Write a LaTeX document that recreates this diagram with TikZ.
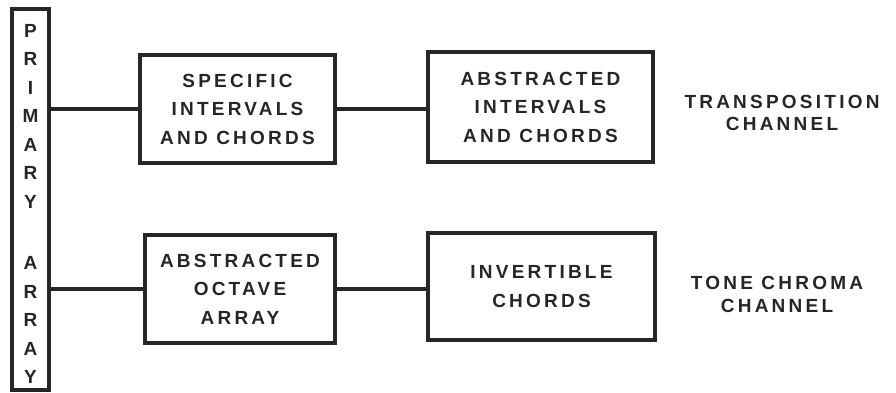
\documentclass[tikz,border=0pt]{standalone}
\usepackage{fontspec}
\setmainfont{Liberation Sans}[LetterSpace=17]
\begin{document}
\begin{tikzpicture}[x=1pt,y=-1pt,
  every node/.style={font=\fontsize{19}{28.5}\selectfont\bfseries, text=black!85},
  blk/.style={draw=black!85, line width=3.2pt, align=center, inner sep=0pt},
  lbl/.style={align=center, inner sep=0pt},
  conn/.style={draw=black!85, line width=3.2pt}]
\useasboundingbox (0,0) rectangle (896,392);
\fill[white] (0,0) rectangle (896,392);
\node[blk, minimum width=37pt, minimum height=381pt] (pa) at (30.5,199.5) {};
\node[lbl] (patext) at (30.5,204) {\fontsize{19}{28}\selectfont P\\R\\I\\M\\A\\R\\Y\\[33pt]A\\R\\R\\A\\Y};
\node[blk, minimum width=195pt, minimum height=108pt] (s1) at (237.5,109) {SPECIFIC\\INTERVALS\\AND CHORDS};
\node[blk, minimum width=225pt, minimum height=110pt] (a1) at (540.5,107) {ABSTRACTED\\INTERVALS\\AND CHORDS};
\node[blk, minimum width=190pt, minimum height=108pt] (s2) at (240,289) {ABSTRACTED\\OCTAVE\\ARRAY};
\node[blk, minimum width=227pt, minimum height=107pt] (a2) at (541.5,286.5) {INVERTIBLE\\CHORDS};
\node[lbl, font=\fontsize{19}{22}\selectfont\bfseries] (t1) at (782,112.5) {TRANSPOSITION\\CHANNEL};
\node[lbl, font=\fontsize{19}{23}\selectfont\bfseries] (t2) at (777,294.5) {TONE CHROMA\\CHANNEL};
\draw[conn] (s1.west) -- (s1.west -| pa.east);
\draw[conn] (s2.west) -- (s2.west -| pa.east);
\draw[conn] (s1.east) -- (a1.west |- s1.east);
\draw[conn] (s2.east) -- (a2.west |- s2.east);
\end{tikzpicture}
\end{document}
